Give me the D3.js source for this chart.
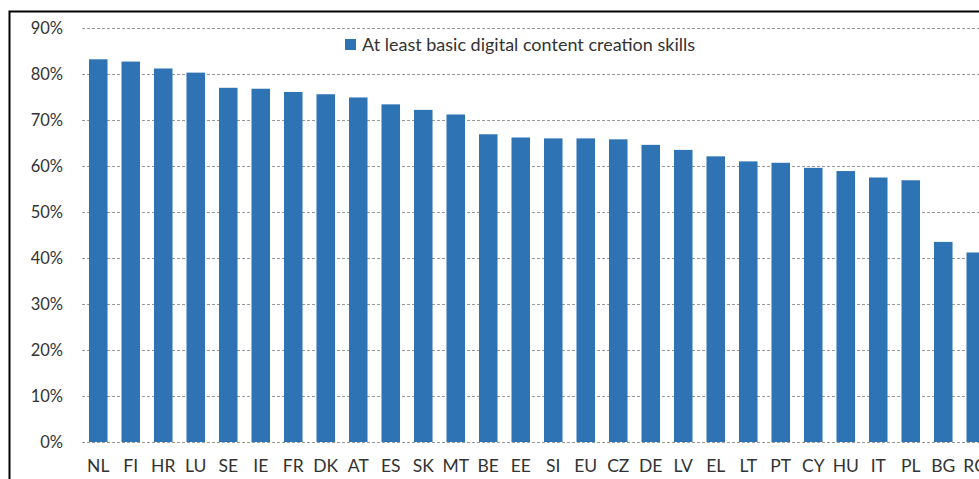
<!DOCTYPE html>
<html>
<head>
<meta charset="utf-8">
<script src="https://cdn.jsdelivr.net/npm/d3@7"></script>
<style>
  html, body { margin: 0; padding: 0; background: #fff; overflow: hidden; }
  svg { display: block; }
</style>
</head>
<body>
<svg id="chart" width="979" height="479"></svg>
<script>
const categories = ["NL","FI","HR","LU","SE","IE","FR","DK","AT","ES","SK","MT","BE","EE","SI","EU","CZ","DE","LV","EL","LT","PT","CY","HU","IT","PL","BG","RO"];
const values = [83.2,82.7,81.2,80.3,77.0,76.8,76.1,75.6,74.9,73.4,72.2,71.2,66.9,66.2,66.0,66.0,65.8,64.6,63.5,62.1,61.0,60.7,59.6,58.9,57.5,56.9,43.5,41.2];
const yTicks = [0,10,20,30,40,50,60,70,80,90];
const seriesName = "At least basic digital content creation skills";

const svg = d3.select("#chart");
const font = "Lato, 'Open Sans', sans-serif";

// frame
svg.append("rect").attr("x", 9.5).attr("y", 11.5).attr("width", 1100).attr("height", 600)
  .attr("fill", "#fff").attr("stroke", "#000").attr("stroke-width", 2);

const x = d3.scaleBand().domain(categories).range([82, 992]).paddingInner(0.43).paddingOuter(0.215);
const y = d3.scaleLinear().domain([0, 90]).range([442, 28]);

// gridlines
const yAxis = d3.axisLeft(y).tickValues(yTicks).tickFormat(d => d + "%").tickSize(-(1100)).tickPadding(19);
const gy = svg.append("g").attr("transform", "translate(82,0)").call(yAxis);
gy.select(".domain").remove();
gy.selectAll(".tick line").attr("stroke", "#999").attr("stroke-dasharray", "3,2").attr("stroke-width", 1);
gy.selectAll(".tick text").attr("font-family", font).attr("font-size", 16.5).attr("fill", "#333");

// bars
svg.append("g").selectAll("rect").data(values).join("rect")
  .attr("x", (d, i) => x(categories[i]))
  .attr("y", d => y(d))
  .attr("width", x.bandwidth())
  .attr("height", d => y(0) - y(d))
  .attr("fill", "#2E74B5");

// x axis labels
const xAxis = d3.axisBottom(x).tickSize(0).tickPadding(18);
const gx = svg.append("g").attr("transform", "translate(0,442)").call(xAxis);
gx.select(".domain").remove();
gx.selectAll(".tick text").attr("font-family", font).attr("font-size", 17.5).attr("fill", "#333");

// legend
const lg = svg.append("g").attr("transform", "translate(345,39)");
lg.append("rect").attr("width", 11).attr("height", 11).attr("fill", "#2E74B5");
lg.append("text").attr("x", 17).attr("y", 12).attr("font-family", font).attr("font-size", 18)
  .attr("fill", "#333").text(seriesName);
</script>
</body>
</html>
